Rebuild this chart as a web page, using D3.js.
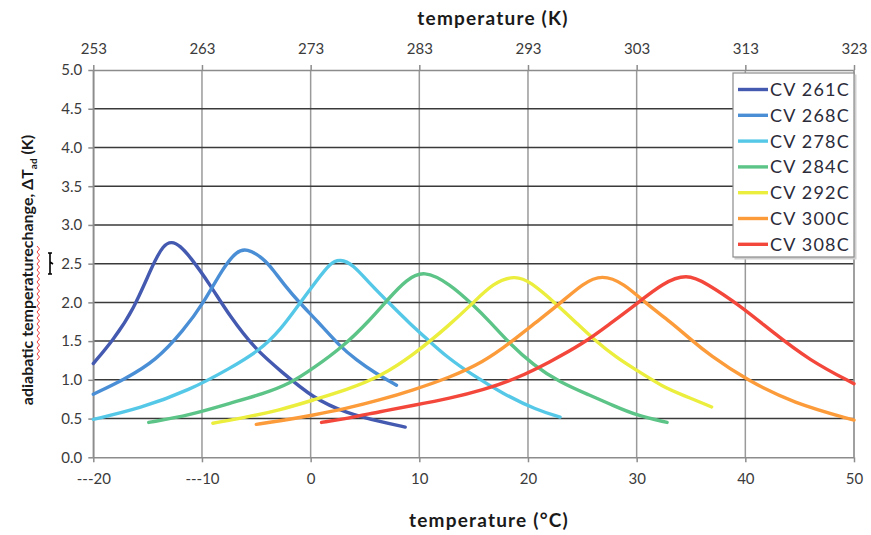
<!DOCTYPE html>
<html>
<head>
<meta charset="utf-8">
<script src="https://cdn.jsdelivr.net/npm/d3@7/dist/d3.min.js"></script>
<style>
  html, body { margin: 0; padding: 0; background: #fff; }
  svg { display: block; }
  text { font-family: Lato, "Open Sans", "Liberation Sans", sans-serif; }
</style>
</head>
<body>
<svg id="chart" width="871" height="535"></svg>
<script>
// Temperature (°C) and adiabatic temperature change (K) for each CV sample
const seriesNames = ["CV 261C", "CV 268C", "CV 278C", "CV 284C", "CV 292C", "CV 300C", "CV 308C"];
const seriesColors = ["#4459b0", "#4a8fd6", "#55c8e8", "#5cc487", "#ebee3c", "#fc9b3a", "#f4473b"];

const cv261T = [-20, -18.2, -16.3, -14.5, -13.55, -12.8, -12.0, -11.1, -9.3, -7.4, -5.0, -2.8, 0.25, 3.3, 6.4, 8.7];
const cv261V = [1.21, 1.51, 1.90, 2.50, 2.74, 2.79, 2.73, 2.59, 2.24, 1.81, 1.38, 1.12, 0.76, 0.57, 0.46, 0.39];

const cv268T = [-20, -17.2, -14.2, -11.7, -9.9, -8.0, -6.8, -5.9, -4.35, -3.4, -2.5, -1.0, 0.55, 2.7, 4.2, 5.8, 7.9];
const cv268V = [0.815, 1.0, 1.25, 1.64, 1.98, 2.46, 2.66, 2.70, 2.57, 2.41, 2.24, 1.99, 1.77, 1.43, 1.26, 1.10, 0.93];

const cv278T = [-20, -15.7, -11.1, -7.4, -4.7, -2.8, -1.0, 0.55, 1.8, 2.7, 3.9, 5.45, 7.3, 9.1, 11.0, 12.5, 14.7, 17.7, 20.8, 22.95];
const cv278V = [0.49, 0.63, 0.87, 1.15, 1.38, 1.64, 1.99, 2.28, 2.51, 2.56, 2.49, 2.24, 1.98, 1.73, 1.49, 1.30, 1.08, 0.82, 0.61, 0.52];

const cv284T = [-14.9, -11.1, -7.4, -4.35, -1.9, 0.25, 3.0, 5.45, 7.3, 8.8, 10.4, 12.8, 15.0, 16.5, 18.3, 20.5, 22.9, 25.7, 27.8, 30.0, 32.8];
const cv284V = [0.45, 0.545, 0.70, 0.82, 0.95, 1.15, 1.43, 1.77, 2.07, 2.29, 2.42, 2.24, 1.96, 1.75, 1.47, 1.19, 0.97, 0.80, 0.67, 0.54, 0.45];

const cv292T = [-9.0, -6.5, -2.8, 0.25, 3.3, 6.4, 9.45, 12.8, 15.0, 16.8, 18.8, 20.2, 22.6, 24.5, 26.0, 28.2, 30.0, 32.4, 34.3, 36.9];
const cv292V = [0.44, 0.50, 0.61, 0.74, 0.87, 1.04, 1.32, 1.71, 2.0, 2.25, 2.35, 2.27, 1.98, 1.73, 1.53, 1.28, 1.125, 0.91, 0.80, 0.65];

const cv300T = [-5.0, -2.8, 0.25, 3.3, 6.4, 9.45, 12.8, 15.9, 18.3, 20.8, 22.9, 25.1, 26.8, 28.8, 30.9, 33.1, 34.9, 36.7, 40.1, 44.4, 50];
const cv300V = [0.425, 0.47, 0.545, 0.63, 0.74, 0.87, 1.03, 1.23, 1.47, 1.75, 1.98, 2.25, 2.36, 2.25, 1.98, 1.75, 1.53, 1.32, 1.0, 0.70, 0.48];

const cv308T = [1.0, 3.3, 6.4, 9.45, 12.8, 15.9, 19.0, 22.0, 25.1, 27.5, 30.0, 32.4, 34.6, 36.4, 39.5, 42.3, 45.9, 50];
const cv308V = [0.45, 0.50, 0.59, 0.67, 0.76, 0.87, 1.02, 1.23, 1.47, 1.72, 1.98, 2.25, 2.37, 2.25, 1.96, 1.64, 1.25, 0.95];

const seriesT = [cv261T, cv268T, cv278T, cv284T, cv292T, cv300T, cv308T];
const seriesV = [cv261V, cv268V, cv278V, cv284V, cv292V, cv300V, cv308V];

// Axis ticks
const celsiusTicks = [-20, -10, 0, 10, 20, 30, 40, 50];
const celsiusLabels = ["---20", "---10", "0", "10", "20", "30", "40", "50"];
const kelvinLabels = ["253", "263", "273", "283", "293", "303", "313", "323"];
const yTicks = [0, 0.5, 1, 1.5, 2, 2.5, 3, 3.5, 4, 4.5, 5];

const svg = d3.select("#chart");
const plotLeft = 93.3, plotRight = 854, plotTop = 70, plotBottom = 457.3;

const x = d3.scaleLinear().domain([-20, 50]).range([plotLeft, plotRight]);
const y = d3.scaleLinear().domain([0, 5]).range([plotBottom, plotTop]);

// Vertical grid
svg.append("g")
  .selectAll("line").data(celsiusTicks).join("line")
  .attr("x1", d => x(d)).attr("x2", d => x(d))
  .attr("y1", plotTop).attr("y2", plotBottom)
  .attr("stroke", "#9a9a9a").attr("stroke-width", 1.5);

// Horizontal grid
svg.append("g")
  .selectAll("line").data(yTicks.filter(d => d > 0 && d < 5)).join("line")
  .attr("x1", plotLeft).attr("x2", plotRight)
  .attr("y1", d => y(d)).attr("y2", d => y(d))
  .attr("stroke", "#3a3a3a").attr("stroke-width", 1.5);

// Bottom axis
const xAxis = d3.axisBottom(x).tickValues(celsiusTicks)
  .tickFormat((d, i) => celsiusLabels[i]).tickSize(5).tickSizeOuter(0);
const gx = svg.append("g").attr("transform", `translate(0,${plotBottom})`).call(xAxis);

// Top axis (Kelvin)
const xTopAxis = d3.axisTop(x).tickValues(celsiusTicks)
  .tickFormat((d, i) => kelvinLabels[i]).tickSize(5).tickSizeOuter(0);
const gxt = svg.append("g").attr("transform", `translate(0,${plotTop})`).call(xTopAxis);

// Left axis
const yAxis = d3.axisLeft(y).tickValues(yTicks)
  .tickFormat(d3.format(".1f")).tickSize(5).tickSizeOuter(0);
const gy = svg.append("g").attr("transform", `translate(${plotLeft},0)`).call(yAxis);

[gx, gxt, gy].forEach(g => {
  g.select(".domain").attr("stroke", "#8c8c8c").attr("stroke-width", 1.5);
  g.selectAll(".tick line").attr("stroke", "#8c8c8c").attr("stroke-width", 1.5);
  g.selectAll(".tick text")
    .attr("fill", "#3b3b3b")
    .style("font-size", "15px")
    .style("font-family", "Lato, 'Open Sans', sans-serif");
});
gx.selectAll(".tick text").attr("dy", "1.25em");
gxt.selectAll(".tick text").attr("dy", "-0.55em");
gy.selectAll(".tick text").attr("dx", "-0.2em");

// Right border of plot
svg.append("line")
  .attr("x1", plotRight).attr("x2", plotRight).attr("y1", plotTop).attr("y2", plotBottom)
  .attr("stroke", "#9a9a9a").attr("stroke-width", 1.5);

// Curves (smoothed B-spline through the sampled points)
const line = d3.line()
  .x(d => x(d[0])).y(d => y(d[1]))
  .curve(d3.curveBasis);

seriesNames.forEach((name, i) => {
  const pts = seriesT[i].map((t, j) => [t, seriesV[i][j]]);
  svg.append("path")
    .datum(pts)
    .attr("d", line)
    .attr("fill", "none")
    .attr("stroke", seriesColors[i])
    .attr("stroke-width", 3.4)
    .attr("stroke-linecap", "round")
    .attr("stroke-linejoin", "round");
});

// Legend
const legend = svg.append("g").attr("transform", "translate(733,73)");
legend.append("rect")
  .attr("x", 1.5).attr("y", 1.5).attr("width", 122).attr("height", 185)
  .attr("fill", "#d0d0d0");
legend.append("rect")
  .attr("x", 0).attr("y", 0).attr("width", 121).attr("height", 184)
  .attr("fill", "#fff").attr("stroke", "#8c8c8c").attr("stroke-width", 1.2);
seriesNames.forEach((name, i) => {
  const cy = 16.5 + i * 25.8;
  legend.append("line")
    .attr("x1", 5).attr("x2", 35).attr("y1", cy).attr("y2", cy)
    .attr("stroke", seriesColors[i]).attr("stroke-width", 3.4);
  legend.append("text")
    .attr("x", 37).attr("y", cy + 6.5)
    .attr("fill", "#2b2b3a")
    .style("font-size", "18px")
    .style("letter-spacing", "1.2px")
    .text(name);
});

// Axis titles
svg.append("text")
  .attr("x", 493).attr("y", 25)
  .attr("text-anchor", "middle")
  .attr("fill", "#1a1a1a")
  .style("font-size", "19px").style("font-weight", "bold")
  .style("letter-spacing", "1.2px")
  .text("temperature (K)");

svg.append("text")
  .attr("x", 489).attr("y", 527)
  .attr("text-anchor", "middle")
  .attr("fill", "#1a1a1a")
  .style("font-size", "19px").style("font-weight", "bold")
  .style("letter-spacing", "1.2px")
  .text("temperature (°C)");

const yTitle = svg.append("text")
  .attr("transform", "translate(33,270) rotate(-90)")
  .attr("text-anchor", "middle")
  .attr("fill", "#1a1a1a")
  .style("font-size", "16px").style("font-weight", "bold");
yTitle.append("tspan").text("adiabatic temperaturechange, ΔT");
yTitle.append("tspan").attr("dy", 4).style("font-size", "10px").text("ad");
yTitle.append("tspan").attr("dy", -4).text(" (K)");

// Spell-check squiggle under the joined word
const squiggle = d3.path();
squiggle.moveTo(37, 360);
for (let yy = 360, k = 0; yy > 247; yy -= 3, k++) {
  squiggle.lineTo(k % 2 ? 37 : 39.5, yy - 3);
}
svg.append("path").attr("d", squiggle.toString())
  .attr("fill", "none").attr("stroke", "#f03c3c").attr("stroke-width", 1);

// Text cursor mark
svg.append("path")
  .attr("d", "M48,253 L52,253 M50,253 L50,274 M48,274 L52,274 M50,262 L53,264")
  .attr("stroke", "#000").attr("stroke-width", 1.6).attr("fill", "none");
</script>
</body>
</html>
